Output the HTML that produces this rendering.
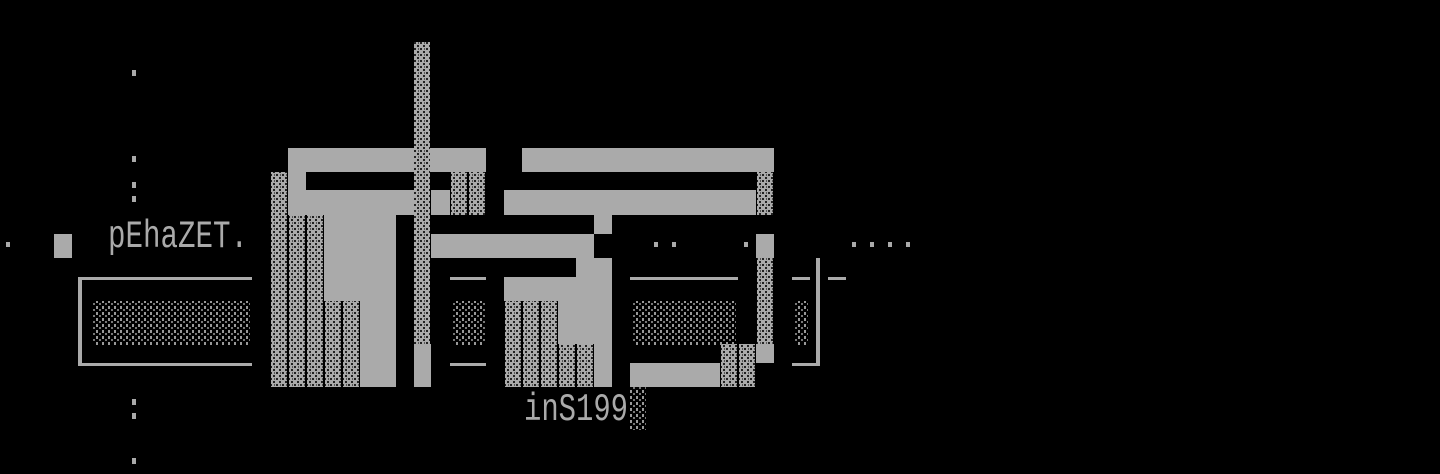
<!DOCTYPE html>
<html><head><meta charset="utf-8"><style>
html,body{margin:0;padding:0;background:#000;width:1440px;height:474px;overflow:hidden}
svg{display:block}
text{font-family:"Liberation Mono",monospace;fill:#aaa}
</style></head><body>
<svg width="1440" height="474" viewBox="0 0 1440 474" xmlns="http://www.w3.org/2000/svg">
<defs>
<pattern id="d" width="6" height="6" patternUnits="userSpaceOnUse">
<rect width="6" height="6" fill="#aaa"/>
<rect x="0" y="0" width="2" height="2" fill="#222"/>
<rect x="3" y="3" width="2" height="2" fill="#222"/>
<rect x="4" y="0" width="1" height="2" fill="#555"/>
</pattern>
<pattern id="l" width="6" height="6" patternUnits="userSpaceOnUse">
<rect x="0" y="0" width="2" height="3" fill="#999"/>
<rect x="3" y="3" width="2" height="2" fill="#777"/>
</pattern>
</defs>
<g fill="#aaa">
<!-- top-left F structure -->
<rect x="288" y="148" width="198" height="24"/>
<rect x="288" y="172" width="18" height="43"/>
<rect x="288" y="190" width="126" height="25"/>
<rect x="431" y="190" width="19" height="25"/>
<rect x="324" y="215" width="72" height="86"/>
<rect x="360" y="301" width="36" height="86"/>
<rect x="414" y="344" width="17" height="43"/>
<!-- right top -->
<rect x="522" y="148" width="252" height="24"/>
<rect x="504" y="190" width="252" height="25"/>
<rect x="594" y="215" width="18" height="19"/>
<rect x="431" y="234" width="163" height="24"/>
<rect x="576" y="258" width="36" height="19"/>
<rect x="504" y="277" width="108" height="24"/>
<rect x="558" y="301" width="54" height="43"/>
<rect x="594" y="344" width="18" height="43"/>
<rect x="756" y="234" width="18" height="24"/>
<rect x="756" y="344" width="18" height="19"/>
<rect x="630" y="363" width="90" height="24"/>
<!-- lines -->
<rect x="450" y="277" width="36" height="3"/>
<rect x="450" y="363" width="36" height="3"/>
<rect x="630" y="277" width="108" height="3"/>
<rect x="792" y="277" width="18" height="3"/>
<rect x="828" y="277" width="18" height="3"/>
<rect x="816" y="258" width="4" height="108"/>
<rect x="792" y="363" width="28" height="3"/>
<!-- left box -->
<rect x="78" y="277" width="174" height="3"/>
<rect x="78" y="277" width="4" height="89"/>
<rect x="78" y="363" width="174" height="3"/>
<rect x="54" y="234" width="18" height="24"/>
<!-- dots -->
<rect x="6" y="242" width="4" height="5"/>
<rect x="132" y="70" width="4" height="6"/>
<rect x="132" y="156" width="4" height="6"/>
<rect x="132" y="182" width="4" height="6"/>
<rect x="132" y="196" width="4" height="6"/>
<rect x="132" y="399" width="4" height="6"/>
<rect x="132" y="413" width="4" height="6"/>
<rect x="132" y="458" width="4" height="6"/>
<rect x="654" y="242" width="4" height="5"/>
<rect x="672" y="242" width="4" height="5"/>
<rect x="744" y="242" width="4" height="5"/>
<rect x="852" y="242" width="4" height="5"/>
<rect x="870" y="242" width="4" height="5"/>
<rect x="888" y="242" width="4" height="5"/>
<rect x="906" y="242" width="4" height="5"/>
</g>
<g fill="url(#d)">
<rect x="414" y="42" width="16" height="302"/>
<rect x="271" y="172" width="16" height="215"/>
<rect x="289" y="215" width="16" height="172"/>
<rect x="307" y="215" width="16" height="172"/>
<rect x="325" y="301" width="16" height="86"/>
<rect x="343" y="301" width="16" height="86"/>
<rect x="451" y="172" width="16" height="43"/>
<rect x="469" y="172" width="16" height="43"/>
<rect x="757" y="172" width="16" height="43"/>
<rect x="505" y="301" width="16" height="86"/>
<rect x="523" y="301" width="16" height="86"/>
<rect x="541" y="301" width="16" height="86"/>
<rect x="559" y="344" width="16" height="43"/>
<rect x="577" y="344" width="16" height="43"/>
<rect x="757" y="258" width="16" height="86"/>
<rect x="721" y="344" width="16" height="43"/>
<rect x="739" y="344" width="16" height="43"/>
</g>
<g fill="url(#l)">
<rect x="92" y="301" width="158" height="44"/>
<rect x="452" y="301" width="34" height="44"/>
<rect x="632" y="301" width="104" height="44"/>
<rect x="794" y="301" width="14" height="44"/>
<rect x="630" y="387" width="16" height="43"/>
</g>
<text x="108" y="248" font-size="29" transform="translate(0,-88) scale(1,1.35)" textLength="140" lengthAdjust="spacingAndGlyphs">pEhaZET.</text>
<text x="524" y="420" font-size="29" transform="translate(0,-147) scale(1,1.35)" textLength="104" lengthAdjust="spacingAndGlyphs">inS199</text>
</svg>
</body></html>
